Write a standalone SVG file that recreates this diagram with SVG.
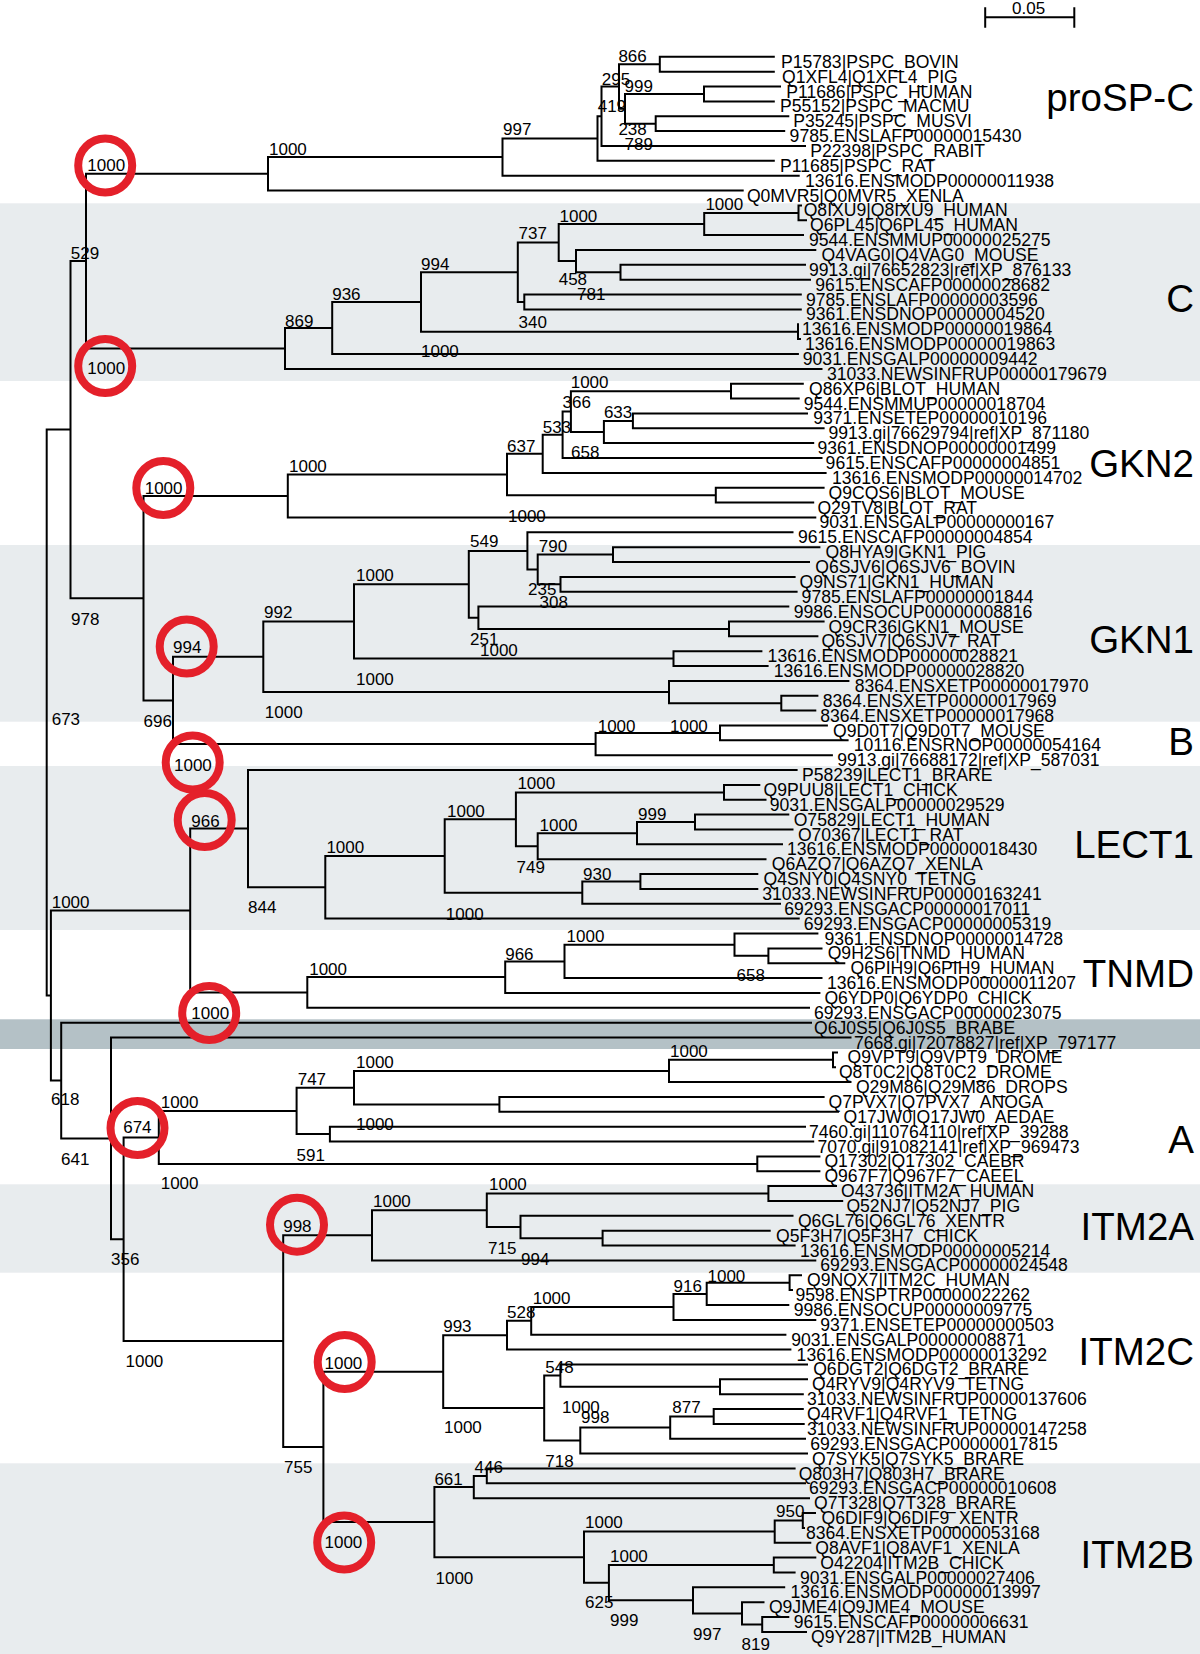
<svg xmlns="http://www.w3.org/2000/svg" width="1200" height="1654" viewBox="0 0 1200 1654">
<style>
.bl{fill:#e8ecee}
.bd{fill:#b4c1c6}
.t{stroke:#000;stroke-width:2;fill:none;stroke-linecap:square}
.lf{font-family:"Liberation Sans",Arial,sans-serif;font-size:17.6px;fill:#000}
.bs{font-family:"Liberation Sans",Arial,sans-serif;font-size:17px;fill:#000}
.gl{font-family:"Liberation Sans",Arial,sans-serif;font-size:38.5px;fill:#000;text-anchor:end}
.rc{fill:none;stroke:#e4202a;stroke-width:8}
</style>
<rect width="1200" height="1654" fill="#fff"/>
<g id="bands">
<rect class="bl" x="0" y="203.3" width="1200" height="177.7"/>
<rect class="bl" x="0" y="545" width="1200" height="176.7"/>
<rect class="bl" x="0" y="766" width="1200" height="164"/>
<rect class="bd" x="0" y="1019.3" width="1200" height="29.7"/>
<rect class="bl" x="0" y="1184.3" width="1200" height="88.4"/>
<rect class="bl" x="0" y="1463.3" width="1200" height="190.7"/>
</g>
<g id="scalebar">
<path class="t" d="M985.2 17.3H1074.3M985.2 8.3V26.7M1074.3 8.3V26.7"/>
<text class="bs" x="1012" y="14">0.05</text>
</g>
<g id="connectors">
<path class="t" d="M659.8 56.8V71.7M659.8 56.8H773.8M659.8 71.7H773.8
M704 86.5V101.4M704 86.5H780M704 101.4H773.8
M655.7 116.2V131.1M655.7 116.2H788.3M655.7 131.1H784.2
M625 94V123.7M625 94H704M625 123.7H655.7
M619 64.3V108.8M619 64.3H659.8M619 108.8H625
M601.5 86.5V146M601.5 86.5H619M601.5 146H805
M597.5 116.3V160.8M597.5 116.3H601.5M597.5 160.8H773.8
M502.5 138.5V175.7M502.5 138.5H597.5M502.5 175.7H798.7
M268 157.1V190.5M268 157.1H502.5M268 190.5H742.7
M798.5 205.4V220.3M798.5 205.4H801M798.5 220.3H806
M704.2 212.9V235.1M704.2 212.9H798.5M704.2 235.1H803
M620.5 264.8V279.7M620.5 264.8H805M620.5 279.7H810
M576 250V272.3M576 250H815.3M576 272.3H620.5
M558.7 224V261.1M558.7 224H704.2M558.7 261.1H576
M524.3 294.6V309.4M524.3 294.6H800.8M524.3 309.4H800.8
M517.8 242.5V302M517.8 242.5H558.7M517.8 302H524.3
M798 324.3V339.1M798 339.1H800
M421 272.3V331.7M421 272.3H517.8M421 331.7H798
M332.2 302V354M332.2 302H421M332.2 354H797.9
M285 328V368.9M285 328H332.2M285 368.9H821.5
M86 173.8V348.5M86 173.8H268M86 348.5H285
M731 383.7V398.6M731 383.7H802.8M731 398.6H798.7
M632.9 413.4V428.3M632.9 413.4H807M632.9 428.3H823.6
M603.9 420.9V443.1M603.9 420.9H632.9M603.9 443.1H813.2
M570.9 391.2V432M570.9 391.2H731M570.9 432H603.9
M562.6 411.6V458M562.6 411.6H570.9M562.6 458H821.5
M542.7 434.8V472.9M542.7 434.8H562.6M542.7 472.9H825.6
M715.8 487.7V502.6M715.8 487.7H823.6M715.8 502.6H813.2
M507 453.8V495.2M507 453.8H542.7M507 495.2H715.8
M287.8 474.5V517.4M287.8 474.5H507M287.8 517.4H815.3
M613 547.2V562M613 547.2H819.4M613 562H809
M560.5 576.9V591.7M560.5 576.9H794.6M560.5 591.7H796.6
M537.7 554.6V584.3M537.7 554.6H613M537.7 584.3H560.5
M527.4 532.3V569.5M527.4 532.3H792.5M527.4 569.5H537.7
M729 621.5V636.3M729 621.5H823.6M729 636.3H817.4
M478.4 606.6V628.9M478.4 606.6H788.3M478.4 628.9H729
M468.8 550.9V617.8M468.8 550.9H527.4M468.8 617.8H478.4
M673.5 651.2V666M673.5 651.2H761.4M673.5 666H767.6
M354 584.3V658.6M354 584.3H468.8M354 658.6H673.5
M781.3 695.8V710.6M781.3 695.8H817.4M781.3 710.6H815.3
M669 680.9V703.2M669 680.9H848.4M669 703.2H781.3
M263.3 621.5V692.1M263.3 621.5H354M263.3 692.1H669
M720 725.5V740.3M720 725.5H826.9M720 740.3H847.6
M595.6 732.9V755.2M595.6 732.9H720M595.6 755.2H831.9
M173 656.8V744.1M173 656.8H263.3M173 744.1H595.6
M143.5 496V700.4M143.5 496H287.8M143.5 700.4H173
M70.5 261.1V598.2M70.5 261.1H86M70.5 598.2H143.5
M724 784.9V799.8M724 784.9H759.3M724 799.8H765.5
M695 814.6V829.5M695 814.6H788.3M695 829.5H792.5
M637 822.1V844.3M637 822.1H695M637 844.3H782
M537.7 833.2V859.2M537.7 833.2H637M537.7 859.2H765.5
M515.9 792.4V846.2M515.9 792.4H724M515.9 846.2H537.7
M640.4 874.1V888.9M640.4 874.1H757.3M640.4 888.9H757.3
M582.3 881.5V903.8M582.3 881.5H640.4M582.3 903.8H780
M444.7 819.3V892.7M444.7 819.3H515.9M444.7 892.7H582.3
M325.3 856V918.6M325.3 856H444.7M325.3 918.6H798.7
M248 770V887.3M248 770H796.6M248 887.3H325.3
M768.4 948.4V963.2M768.4 948.4H821.5M768.4 963.2H844.3
M734.5 933.5V955.8M734.5 933.5H817.4M734.5 955.8H768.4
M564.5 944.7V978.1M564.5 944.7H734.5M564.5 978.1H821.5
M505.2 961.4V992.9M505.2 961.4H564.5M505.2 992.9H819.4
M307.3 977.1V1007.8M307.3 977.1H505.2M307.3 1007.8H809
M190.2 828.6V992.5M190.2 828.6H248M190.2 992.5H307.3
M833 1052.4V1067.2M833 1052.4H837M833 1067.2H835
M669 1059.8V1082.1M669 1059.8H833M669 1082.1H850.5
M499.4 1097V1111.8M499.4 1097H823.6M499.4 1111.8H838
M354 1071V1104.4M354 1071H669M354 1104.4H499.4
M329.9 1126.7V1141.5M329.9 1126.7H805M329.9 1141.5H813.2
M296.6 1087.7V1134.1M296.6 1087.7H354M296.6 1134.1H329.9
M757.3 1156.4V1171.3M757.3 1156.4H819.4M757.3 1171.3H819.4
M158.8 1110.9V1163.9M158.8 1110.9H296.6M158.8 1163.9H757.3
M768.4 1186.1V1201M768.4 1186.1H836M768.4 1201H842.2
M602.6 1230.7V1245.6M602.6 1230.7H769.7M602.6 1245.6H794.6
M520.5 1215.8V1238.2M520.5 1215.8H792.5M520.5 1238.2H602.6
M486.8 1193.6V1227M486.8 1193.6H768.4M486.8 1227H520.5
M372 1210.3V1260.4M372 1210.3H486.8M372 1260.4H815.3
M789.6 1275.3V1290.1M789.6 1275.3H801M789.6 1290.1H792
M706.7 1282.7V1305M706.7 1282.7H789.6M706.7 1305H788.3
M673.5 1293.9V1319.9M673.5 1293.9H706.7M673.5 1319.9H815.3
M531.2 1306.9V1334.7M531.2 1306.9H673.5M531.2 1334.7H785.4
M507 1320.8V1349.6M507 1320.8H531.2M507 1349.6H790.4
M720 1379.3V1394.2M720 1379.3H807M720 1394.2H802.8
M560.4 1364.4V1386.8M560.4 1364.4H807M560.4 1386.8H720
M713.7 1409V1423.9M713.7 1409H802.8M713.7 1423.9H803.7
M670.2 1416.5V1438.7M670.2 1416.5H713.7M670.2 1438.7H805
M580.3 1427.6V1453.6M580.3 1427.6H670.2M580.3 1453.6H807
M544.2 1375.6V1440.6M544.2 1375.6H560.4M544.2 1440.6H580.3
M443.2 1335.2V1408.1M443.2 1335.2H507M443.2 1408.1H544.2
M486.8 1468.5V1483.3M486.8 1468.5H794.6M486.8 1483.3H805
M473.8 1475.9V1498.2M473.8 1475.9H486.8M473.8 1498.2H809
M802.8 1513V1527.9M802.8 1513H815M802.8 1527.9H804
M774.7 1520.5V1542.8M774.7 1520.5H802.8M774.7 1542.8H810.3
M773.8 1557.6V1572.5M773.8 1557.6H815.3M773.8 1572.5H794.6
M762.2 1617.1V1631.9M762.2 1617.1H788.3M762.2 1631.9H806
M742 1602.2V1624.5M742 1602.2H763.5M742 1624.5H762.2
M693 1587.3V1613.4M693 1587.3H784.2M693 1613.4H742
M608.9 1565.1V1600.3M608.9 1565.1H773.8M608.9 1600.3H693
M584 1531.6V1582.7M584 1531.6H774.7M584 1582.7H608.9
M434.4 1487.1V1557.2M434.4 1487.1H473.8M434.4 1557.2H584
M323.4 1371.7V1522.1M323.4 1371.7H443.2M323.4 1522.1H434.4
M283.2 1235.3V1446.9M283.2 1235.3H372M283.2 1446.9H323.4
M123.6 1137.4V1341.1M123.6 1137.4H158.8M123.6 1341.1H283.2
M111 1037.5V1239.2M111 1037.5H850.5M111 1239.2H123.6
M61.2 1022.7V1138.4M61.2 1022.7H811M61.2 1138.4H111
M50.9 910.6V1080.5M50.9 910.6H190.2M50.9 1080.5H61.2
M46.7 429.6V995.6M46.7 429.6H70.5M46.7 995.6H50.9"/>
</g>
<g id="support">
<text class="bs" x="618.4" y="61.7">866</text>
<text class="bs" x="601.8" y="85">295</text>
<text class="bs" x="624.6" y="91.7">999</text>
<text class="bs" x="597.7" y="111.7">419</text>
<text class="bs" x="618.4" y="135">238</text>
<text class="bs" x="624.6" y="150">789</text>
<text class="bs" x="503" y="135">997</text>
<text class="bs" x="269" y="155">1000</text>
<text class="bs" x="70.8" y="259">529</text>
<text class="bs" x="421" y="270">994</text>
<text class="bs" x="518.6" y="239.3">737</text>
<text class="bs" x="559.5" y="221.7">1000</text>
<text class="bs" x="705.4" y="210">1000</text>
<text class="bs" x="558.7" y="285">458</text>
<text class="bs" x="577" y="300">781</text>
<text class="bs" x="518.6" y="328.3">340</text>
<text class="bs" x="332.2" y="300">936</text>
<text class="bs" x="285" y="326.7">869</text>
<text class="bs" x="421" y="356.7">1000</text>
<text class="bs" x="289" y="472">1000</text>
<text class="bs" x="507" y="451.7">637</text>
<text class="bs" x="542.7" y="433">533</text>
<text class="bs" x="562.6" y="408">366</text>
<text class="bs" x="570.7" y="388.3">1000</text>
<text class="bs" x="603.9" y="418.3">633</text>
<text class="bs" x="571" y="458.3">658</text>
<text class="bs" x="508" y="521.7">1000</text>
<text class="bs" x="71" y="625">978</text>
<text class="bs" x="470" y="546.7">549</text>
<text class="bs" x="538.8" y="551.7">790</text>
<text class="bs" x="528" y="595">235</text>
<text class="bs" x="539.6" y="608.3">308</text>
<text class="bs" x="264" y="618.3">992</text>
<text class="bs" x="356" y="580.7">1000</text>
<text class="bs" x="470" y="645">251</text>
<text class="bs" x="480" y="656">1000</text>
<text class="bs" x="356" y="685">1000</text>
<text class="bs" x="264.8" y="718.3">1000</text>
<text class="bs" x="143.5" y="726.7">696</text>
<text class="bs" x="51.7" y="725">673</text>
<text class="bs" x="597.7" y="731.7">1000</text>
<text class="bs" x="670" y="731.7">1000</text>
<text class="bs" x="517.4" y="789.3">1000</text>
<text class="bs" x="447" y="816.7">1000</text>
<text class="bs" x="539.6" y="830.7">1000</text>
<text class="bs" x="638" y="820">999</text>
<text class="bs" x="326.4" y="853.3">1000</text>
<text class="bs" x="516.6" y="873.3">749</text>
<text class="bs" x="583" y="880">930</text>
<text class="bs" x="248" y="913.3">844</text>
<text class="bs" x="445.8" y="920">1000</text>
<text class="bs" x="51.7" y="908">1000</text>
<text class="bs" x="566.6" y="941.7">1000</text>
<text class="bs" x="505.2" y="960">966</text>
<text class="bs" x="309.2" y="975">1000</text>
<text class="bs" x="736.5" y="981">658</text>
<text class="bs" x="356" y="1068.3">1000</text>
<text class="bs" x="670" y="1056.7">1000</text>
<text class="bs" x="297.7" y="1085">747</text>
<text class="bs" x="51" y="1105">618</text>
<text class="bs" x="160.7" y="1108">1000</text>
<text class="bs" x="356" y="1130">1000</text>
<text class="bs" x="61" y="1165">641</text>
<text class="bs" x="296.6" y="1160.7">591</text>
<text class="bs" x="160.7" y="1189.3">1000</text>
<text class="bs" x="489" y="1190">1000</text>
<text class="bs" x="373" y="1207.3">1000</text>
<text class="bs" x="488" y="1254">715</text>
<text class="bs" x="521" y="1265">994</text>
<text class="bs" x="111" y="1265">356</text>
<text class="bs" x="707.5" y="1281.7">1000</text>
<text class="bs" x="673.5" y="1291.7">916</text>
<text class="bs" x="532.7" y="1304">1000</text>
<text class="bs" x="507" y="1318.3">528</text>
<text class="bs" x="443.2" y="1331.7">993</text>
<text class="bs" x="125.5" y="1366.7">1000</text>
<text class="bs" x="545.3" y="1373.3">548</text>
<text class="bs" x="562" y="1413.3">1000</text>
<text class="bs" x="672.3" y="1413.3">877</text>
<text class="bs" x="581" y="1423.3">998</text>
<text class="bs" x="444" y="1433.3">1000</text>
<text class="bs" x="545.3" y="1466.7">718</text>
<text class="bs" x="284" y="1473.3">755</text>
<text class="bs" x="474.5" y="1473.3">446</text>
<text class="bs" x="434.4" y="1485">661</text>
<text class="bs" x="776" y="1516.7">950</text>
<text class="bs" x="585" y="1528.3">1000</text>
<text class="bs" x="610" y="1561.7">1000</text>
<text class="bs" x="435.5" y="1584.3">1000</text>
<text class="bs" x="585" y="1608.3">625</text>
<text class="bs" x="610" y="1625.7">999</text>
<text class="bs" x="693" y="1640">997</text>
<text class="bs" x="741.5" y="1650">819</text>
</g>
<g id="highlight">
<g id="c1"><circle class="rc" cx="105.2" cy="165.5" r="27"/><text class="bs" x="87.3" y="170.7">1000</text></g>
<g id="c2"><circle class="rc" cx="105.2" cy="366" r="27"/><text class="bs" x="87.3" y="374.3">1000</text></g>
<g id="c3"><circle class="rc" cx="163.3" cy="488" r="27"/><text class="bs" x="144.7" y="494">1000</text></g>
<g id="c4"><circle class="rc" cx="186.7" cy="646.5" r="27"/><text class="bs" x="173" y="653.3">994</text></g>
<g id="c5"><circle class="rc" cx="192.7" cy="762.5" r="27"/><text class="bs" x="174" y="770.7">1000</text></g>
<g id="c6"><circle class="rc" cx="204.7" cy="820" r="27"/><text class="bs" x="191.3" y="826.7">966</text></g>
<g id="c7"><circle class="rc" cx="209.2" cy="1013" r="27"/><text class="bs" x="191.3" y="1019.3">1000</text></g>
<g id="c8"><circle class="rc" cx="137.5" cy="1128" r="27"/><text class="bs" x="123.2" y="1133.3">674</text></g>
<g id="c9"><circle class="rc" cx="297" cy="1224.7" r="27"/><text class="bs" x="283.2" y="1231.7">998</text></g>
<g id="c10"><circle class="rc" cx="344.7" cy="1362" r="27"/><text class="bs" x="324.5" y="1369.3">1000</text></g>
<g id="c11"><circle class="rc" cx="344.2" cy="1542.5" r="27"/><text class="bs" x="324.5" y="1548.3">1000</text></g>
</g>
<g id="groups">
<text class="gl" x="1194" y="110.7">proSP-C</text>
<text class="gl" x="1194" y="312.3">C</text>
<text class="gl" x="1194" y="476.7">GKN2</text>
<text class="gl" x="1194" y="653.3">GKN1</text>
<text class="gl" x="1194" y="755">B</text>
<text class="gl" x="1194" y="858.3">LECT1</text>
<text class="gl" x="1194" y="986.7">TNMD</text>
<text class="gl" x="1194" y="1153.3">A</text>
<text class="gl" x="1194" y="1240">ITM2A</text>
<text class="gl" x="1194" y="1365">ITM2C</text>
<text class="gl" x="1194" y="1567.7">ITM2B</text>
</g>
<g id="leaves">
<g id="leaf1"><text class="lf" x="781" y="67.8">P15783|PSPC_BOVIN</text></g>
<g id="leaf2"><text class="lf" x="782" y="82.7">Q1XFL4|Q1XFL4_PIG</text></g>
<g id="leaf3"><text class="lf" x="786.3" y="97.5">P11686|PSPC_HUMAN</text></g>
<g id="leaf4"><text class="lf" x="780" y="112.4">P55152|PSPC_MACMU</text></g>
<g id="leaf5"><text class="lf" x="793.3" y="127.2">P35245|PSPC_MUSVI</text></g>
<g id="leaf6"><text class="lf" x="789.6" y="142.1">9785.ENSLAFP00000015430</text></g>
<g id="leaf7"><text class="lf" x="810.3" y="157">P22398|PSPC_RABIT</text></g>
<g id="leaf8"><text class="lf" x="780" y="171.8">P11685|PSPC_RAT</text></g>
<g id="leaf9"><text class="lf" x="805" y="186.7">13616.ENSMODP00000011938</text></g>
<g id="leaf10"><text class="lf" x="746.9" y="201.5">Q0MVR5|Q0MVR5_XENLA</text></g>
<g id="leaf11"><text class="lf" x="803.7" y="216.4">Q8IXU9|Q8IXU9_HUMAN</text></g>
<g id="leaf12"><text class="lf" x="810" y="231.3">Q6PL45|Q6PL45_HUMAN</text></g>
<g id="leaf13"><text class="lf" x="809" y="246.1">9544.ENSMMUP00000025275</text></g>
<g id="leaf14"><text class="lf" x="821.5" y="261">Q4VAG0|Q4VAG0_MOUSE</text></g>
<g id="leaf15"><text class="lf" x="809" y="275.8">9913.gi|76652823|ref|XP_876133</text></g>
<g id="leaf16"><text class="lf" x="815.3" y="290.7">9615.ENSCAFP00000028682</text></g>
<g id="leaf17"><text class="lf" x="806" y="305.6">9785.ENSLAFP00000003596</text></g>
<g id="leaf18"><text class="lf" x="806" y="320.4">9361.ENSDNOP00000004520</text></g>
<g id="leaf19"><text class="lf" x="802" y="335.3">13616.ENSMODP00000019864</text></g>
<g id="leaf20"><text class="lf" x="805" y="350.1">13616.ENSMODP00000019863</text></g>
<g id="leaf21"><text class="lf" x="802.8" y="365">9031.ENSGALP00000009442</text></g>
<g id="leaf22"><text class="lf" x="827" y="379.9">31033.NEWSINFRUP00000179679</text></g>
<g id="leaf23"><text class="lf" x="809" y="394.7">Q86XP6|BLOT_HUMAN</text></g>
<g id="leaf24"><text class="lf" x="803.7" y="409.6">9544.ENSMMUP00000018704</text></g>
<g id="leaf25"><text class="lf" x="813.2" y="424.4">9371.ENSETEP00000010196</text></g>
<g id="leaf26"><text class="lf" x="828.5" y="439.3">9913.gi|76629794|ref|XP_871180</text></g>
<g id="leaf27"><text class="lf" x="817.4" y="454.1">9361.ENSDNOP00000001499</text></g>
<g id="leaf28"><text class="lf" x="825.6" y="469">9615.ENSCAFP00000004851</text></g>
<g id="leaf29"><text class="lf" x="831.9" y="483.9">13616.ENSMODP00000014702</text></g>
<g id="leaf30"><text class="lf" x="828.5" y="498.7">Q9CQS6|BLOT_MOUSE</text></g>
<g id="leaf31"><text class="lf" x="817.4" y="513.6">Q29TV8|BLOT_RAT</text></g>
<g id="leaf32"><text class="lf" x="819.4" y="528.4">9031.ENSGALP00000000167</text></g>
<g id="leaf33"><text class="lf" x="797.9" y="543.3">9615.ENSCAFP00000004854</text></g>
<g id="leaf34"><text class="lf" x="825.6" y="558.2">Q8HYA9|GKN1_PIG</text></g>
<g id="leaf35"><text class="lf" x="815.3" y="573">Q6SJV6|Q6SJV6_BOVIN</text></g>
<g id="leaf36"><text class="lf" x="799.5" y="587.9">Q9NS71|GKN1_HUMAN</text></g>
<g id="leaf37"><text class="lf" x="801.6" y="602.7">9785.ENSLAFP00000001844</text></g>
<g id="leaf38"><text class="lf" x="793.7" y="617.6">9986.ENSOCUP00000008816</text></g>
<g id="leaf39"><text class="lf" x="828.5" y="632.5">Q9CR36|GKN1_MOUSE</text></g>
<g id="leaf40"><text class="lf" x="821.5" y="647.3">Q6SJV7|Q6SJV7_RAT</text></g>
<g id="leaf41"><text class="lf" x="767.6" y="662.2">13616.ENSMODP00000028821</text></g>
<g id="leaf42"><text class="lf" x="773.8" y="677">13616.ENSMODP00000028820</text></g>
<g id="leaf43"><text class="lf" x="854.7" y="691.9">8364.ENSXETP00000017970</text></g>
<g id="leaf44"><text class="lf" x="822.7" y="706.8">8364.ENSXETP00000017969</text></g>
<g id="leaf45"><text class="lf" x="820.3" y="721.6">8364.ENSXETP00000017968</text></g>
<g id="leaf46"><text class="lf" x="833" y="736.5">Q9D0T7|Q9D0T7_MOUSE</text></g>
<g id="leaf47"><text class="lf" x="853.8" y="751.3">10116.ENSRNOP00000054164</text></g>
<g id="leaf48"><text class="lf" x="837.3" y="766.2">9913.gi|76688172|ref|XP_587031</text></g>
<g id="leaf49"><text class="lf" x="802" y="781">P58239|LECT1_BRARE</text></g>
<g id="leaf50"><text class="lf" x="763.5" y="795.9">Q9PUU8|LECT1_CHICK</text></g>
<g id="leaf51"><text class="lf" x="769.7" y="810.8">9031.ENSGALP00000029529</text></g>
<g id="leaf52"><text class="lf" x="793.7" y="825.6">O75829|LECT1_HUMAN</text></g>
<g id="leaf53"><text class="lf" x="797.9" y="840.5">O70367|LECT1_RAT</text></g>
<g id="leaf54"><text class="lf" x="787" y="855.3">13616.ENSMODP00000018430</text></g>
<g id="leaf55"><text class="lf" x="771.8" y="870.2">Q6AZQ7|Q6AZQ7_XENLA</text></g>
<g id="leaf56"><text class="lf" x="763.5" y="885.1">Q4SNY0|Q4SNY0_TETNG</text></g>
<g id="leaf57"><text class="lf" x="762.2" y="899.9">31033.NEWSINFRUP00000163241</text></g>
<g id="leaf58"><text class="lf" x="784.2" y="914.8">69293.ENSGACP00000017011</text></g>
<g id="leaf59"><text class="lf" x="803.7" y="929.6">69293.ENSGACP00000005319</text></g>
<g id="leaf60"><text class="lf" x="824.4" y="944.5">9361.ENSDNOP00000014728</text></g>
<g id="leaf61"><text class="lf" x="827.7" y="959.4">Q9H2S6|TNMD_HUMAN</text></g>
<g id="leaf62"><text class="lf" x="850.5" y="974.2">Q6PIH9|Q6PIH9_HUMAN</text></g>
<g id="leaf63"><text class="lf" x="826.9" y="989.1">13616.ENSMODP00000011207</text></g>
<g id="leaf64"><text class="lf" x="824.4" y="1003.9">Q6YDP0|Q6YDP0_CHICK</text></g>
<g id="leaf65"><text class="lf" x="814" y="1018.8">69293.ENSGACP00000023075</text></g>
<g id="leaf66"><text class="lf" x="814" y="1033.7">Q6J0S5|Q6J0S5_BRABE</text></g>
<g id="leaf67"><text class="lf" x="854" y="1048.5">7668.gi|72078827|ref|XP_797177</text></g>
<g id="leaf68"><text class="lf" x="847.6" y="1063.4">Q9VPT9|Q9VPT9_DROME</text></g>
<g id="leaf69"><text class="lf" x="838.9" y="1078.2">Q8T0C2|Q8T0C2_DROME</text></g>
<g id="leaf70"><text class="lf" x="855.9" y="1093.1">Q29M86|Q29M86_DROPS</text></g>
<g id="leaf71"><text class="lf" x="828.5" y="1108">Q7PVX7|Q7PVX7_ANOGA</text></g>
<g id="leaf72"><text class="lf" x="843.5" y="1122.8">Q17JW0|Q17JW0_AEDAE</text></g>
<g id="leaf73"><text class="lf" x="809" y="1137.7">7460.gi|110764110|ref|XP_39288</text></g>
<g id="leaf74"><text class="lf" x="817.4" y="1152.5">7070.gi|91082141|ref|XP_969473</text></g>
<g id="leaf75"><text class="lf" x="824.4" y="1167.4">Q17302|Q17302_CAEBR</text></g>
<g id="leaf76"><text class="lf" x="824.4" y="1182.3">Q967F7|Q967F7_CAEEL</text></g>
<g id="leaf77"><text class="lf" x="841" y="1197.1">O43736|ITM2A_HUMAN</text></g>
<g id="leaf78"><text class="lf" x="846.4" y="1212">Q52NJ7|Q52NJ7_PIG</text></g>
<g id="leaf79"><text class="lf" x="797.9" y="1226.8">Q6GL76|Q6GL76_XENTR</text></g>
<g id="leaf80"><text class="lf" x="776" y="1241.7">Q5F3H7|Q5F3H7_CHICK</text></g>
<g id="leaf81"><text class="lf" x="800" y="1256.6">13616.ENSMODP00000005214</text></g>
<g id="leaf82"><text class="lf" x="820.3" y="1271.4">69293.ENSGACP00000024548</text></g>
<g id="leaf83"><text class="lf" x="807" y="1286.3">Q9NQX7|ITM2C_HUMAN</text></g>
<g id="leaf84"><text class="lf" x="795.4" y="1301.1">9598.ENSPTRP00000022262</text></g>
<g id="leaf85"><text class="lf" x="793.7" y="1316">9986.ENSOCUP00000009775</text></g>
<g id="leaf86"><text class="lf" x="820.3" y="1330.9">9371.ENSETEP00000000503</text></g>
<g id="leaf87"><text class="lf" x="791.2" y="1345.7">9031.ENSGALP00000008871</text></g>
<g id="leaf88"><text class="lf" x="796.6" y="1360.6">13616.ENSMODP00000013292</text></g>
<g id="leaf89"><text class="lf" x="813.2" y="1375.4">Q6DGT2|Q6DGT2_BRARE</text></g>
<g id="leaf90"><text class="lf" x="812" y="1390.3">Q4RYV9|Q4RYV9_TETNG</text></g>
<g id="leaf91"><text class="lf" x="807" y="1405.2">31033.NEWSINFRUP00000137606</text></g>
<g id="leaf92"><text class="lf" x="807" y="1420">Q4RVF1|Q4RVF1_TETNG</text></g>
<g id="leaf93"><text class="lf" x="807" y="1434.9">31033.NEWSINFRUP00000147258</text></g>
<g id="leaf94"><text class="lf" x="810.3" y="1449.7">69293.ENSGACP00000017815</text></g>
<g id="leaf95"><text class="lf" x="812" y="1464.6">Q7SYK5|Q7SYK5_BRARE</text></g>
<g id="leaf96"><text class="lf" x="798.7" y="1479.5">Q803H7|Q803H7_BRARE</text></g>
<g id="leaf97"><text class="lf" x="809" y="1494.3">69293.ENSGACP00000010608</text></g>
<g id="leaf98"><text class="lf" x="814" y="1509.2">Q7T328|Q7T328_BRARE</text></g>
<g id="leaf99"><text class="lf" x="821.5" y="1524">Q6DIF9|Q6DIF9_XENTR</text></g>
<g id="leaf100"><text class="lf" x="806" y="1538.9">8364.ENSXETP00000053168</text></g>
<g id="leaf101"><text class="lf" x="815.3" y="1553.8">Q8AVF1|Q8AVF1_XENLA</text></g>
<g id="leaf102"><text class="lf" x="820.3" y="1568.6">O42204|ITM2B_CHICK</text></g>
<g id="leaf103"><text class="lf" x="800" y="1583.5">9031.ENSGALP00000027406</text></g>
<g id="leaf104"><text class="lf" x="790.4" y="1598.3">13616.ENSMODP00000013997</text></g>
<g id="leaf105"><text class="lf" x="768.9" y="1613.2">Q9JME4|Q9JME4_MOUSE</text></g>
<g id="leaf106"><text class="lf" x="793.7" y="1628.1">9615.ENSCAFP00000006631</text></g>
<g id="leaf107"><text class="lf" x="811" y="1642.9">Q9Y287|ITM2B_HUMAN</text></g>
</g>
</svg>
